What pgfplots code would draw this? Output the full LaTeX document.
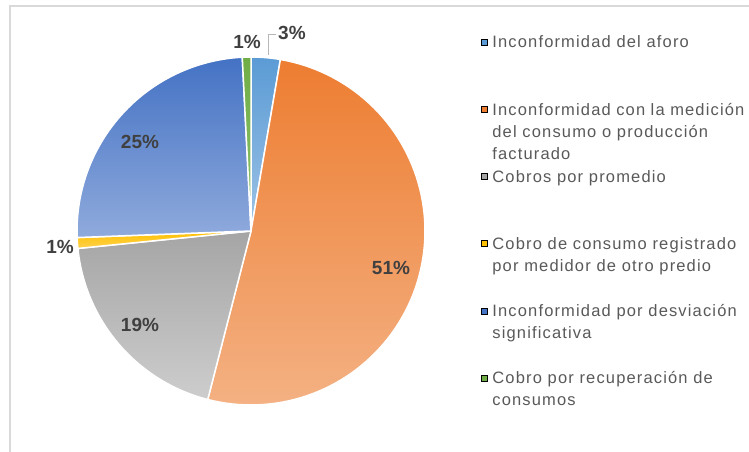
\documentclass[border=0pt]{standalone}
\usepackage{pgfplots}
\pgfplotsset{compat=1.18}
\usepackage{fontspec}
\setmainfont{Liberation Sans}
\newfontfamily\legfont[LetterSpace=7]{Liberation Sans}
\newfontfamily\lblfont{Liberation Sans}
\definecolor{cA}{HTML}{5B9BD5}\definecolor{cAl}{HTML}{9DC3E6}
\definecolor{cB}{HTML}{ED7D31}\definecolor{cBl}{HTML}{F4B183}
\definecolor{cC}{HTML}{A5A5A5}\definecolor{cCl}{HTML}{CDCDCD}
\definecolor{cD}{HTML}{FFC000}\definecolor{cDl}{HTML}{FFD24D}
\definecolor{cE}{HTML}{4472C4}\definecolor{cEl}{HTML}{8FAADC}
\definecolor{cF}{HTML}{70AD47}\definecolor{cFl}{HTML}{8CC16A}
\definecolor{txt}{HTML}{595959}
\definecolor{lbl}{HTML}{404040}
\definecolor{frame}{HTML}{D9D9D9}
\pgfplotsset{sq legend/.style={legend image code/.code={\fill[##1] (0pt,3pt) rectangle (6pt,9pt);}}}
% percentages of each category
\def\vA{2.7}\def\vB{51.3}\def\vC{19.4}\def\vD{1.0}\def\vE{24.8}\def\vF{0.8}
\pgfmathsetmacro\aA{0}
\pgfmathsetmacro\aB{\aA+3.6*\vA}
\pgfmathsetmacro\aC{\aB+3.6*\vB}
\pgfmathsetmacro\aD{\aC+3.6*\vC}
\pgfmathsetmacro\aE{\aD+3.6*\vD}
\pgfmathsetmacro\aF{\aE+3.6*\vE}
\pgfmathsetmacro\aG{\aF+3.6*\vF}
\newcommand\ent[1]{\parbox[t]{252pt}{\baselineskip=22pt #1}}
\begin{document}
\begin{tikzpicture}
\begin{axis}[
  scale only axis, width=749pt, height=452pt,
  xmin=0, xmax=749, ymin=0, ymax=452,
  hide axis, clip=false,
  legend style={at={(axis cs:481,417.2)}, anchor=north west, draw=none, fill=none,
    inner sep=0pt, outer sep=0pt, row sep=0pt, column sep=5pt,
    nodes={inner sep=0pt, outer sep=0pt, anchor=base west, text=txt, text height=13.2pt, text depth=54pt, font=\legfont\fontsize{16.5}{22}\selectfont}},
  legend cell align=left,
  pie/.style={draw=white, line width=1.5pt, samples=90, variable=\t},
]
\addplot[pie, top color=cA, bottom color=cAl, domain=\aA:\aB, forget plot] ({251+174*sin(\t)},{221+174*cos(\t)}) -- (axis cs:251,221) -- cycle;
\addplot[pie, top color=cB, bottom color=cBl, domain=\aB:\aC, forget plot] ({251+174*sin(\t)},{221+174*cos(\t)}) -- (axis cs:251,221) -- cycle;
\addplot[pie, top color=cC, bottom color=cCl, domain=\aC:\aD, forget plot] ({251+174*sin(\t)},{221+174*cos(\t)}) -- (axis cs:251,221) -- cycle;
\addplot[pie, top color=cD, bottom color=cDl, domain=\aD:\aE, forget plot] ({251+174*sin(\t)},{221+174*cos(\t)}) -- (axis cs:251,221) -- cycle;
\addplot[pie, top color=cE, bottom color=cEl, domain=\aE:\aF, forget plot] ({251+174*sin(\t)},{221+174*cos(\t)}) -- (axis cs:251,221) -- cycle;
\addplot[pie, top color=cF, bottom color=cFl, domain=\aF:\aG, forget plot] ({251+174*sin(\t)},{221+174*cos(\t)}) -- (axis cs:251,221) -- cycle;
% leader line and frame
\addplot[color=cC!80!white, line width=1pt, forget plot] coordinates {(268,397) (268,417) (276,417)};
\addplot[color=frame, line width=1.5pt, forget plot] coordinates {(10,0) (10,446) (749,446)};
% labels
\begin{scope}[every node/.style={font=\lblfont\bfseries\fontsize{19}{22}\selectfont, text=lbl, inner sep=0pt}]
\node[anchor=west] at (axis cs:278,419) {3\%};
\node at (axis cs:247,410) {1\%};
\node at (axis cs:140,310) {25\%};
\node at (axis cs:391,184) {51\%};
\node at (axis cs:140,127) {19\%};
\node at (axis cs:60,205) {1\%};
\end{scope}
\addlegendimage{sq legend, fill=cA}
\addlegendentry{\ent{Inconformidad del aforo}}
\addlegendimage{sq legend, fill=cB}
\addlegendentry{\ent{Inconformidad con la medición\\del consumo o producción\\facturado}}
\addlegendimage{sq legend, fill=cC}
\addlegendentry{\ent{Cobros por promedio}}
\addlegendimage{sq legend, fill=cD}
\addlegendentry{\ent{Cobro de consumo registrado\\por medidor de otro predio}}
\addlegendimage{sq legend, fill=cE}
\addlegendentry{\ent{Inconformidad por desviación\\significativa}}
\addlegendimage{sq legend, fill=cF}
\addlegendentry{\ent{Cobro por recuperación de\\consumos}}
\end{axis}
\pgfresetboundingbox
\path (current axis.south west) rectangle (current axis.north east);
\end{tikzpicture}
\end{document}
